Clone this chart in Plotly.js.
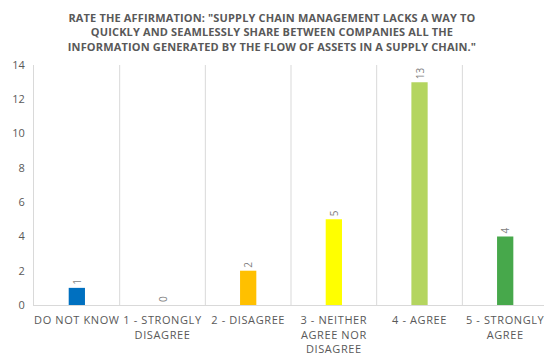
<!DOCTYPE html>
<html>
<head>
<meta charset="utf-8">
<script src="https://cdn.plot.ly/plotly-3.0.1.min.js"></script>
<style>
  html, body { margin: 0; padding: 0; background: #fff; overflow: hidden; }
  #chart { width: 544px; height: 356px; }
  .xtick text { letter-spacing: 0.6px; }
  .gtitle { letter-spacing: 0.15px; }
</style>
</head>
<body>
<div id="chart"></div>
<script>
// Survey answers and their counts
const categories = [
  "DO NOT KNOW",
  "1 - STRONGLY<br>DISAGREE",
  "2 - DISAGREE",
  "3 - NEITHER<br>AGREE NOR<br>DISAGREE",
  "4 - AGREE",
  "5 - STRONGLY<br>AGREE"
];
const counts = [1, 0, 2, 5, 13, 4];
const barColors = ["#0070C0", "#A5A5A5", "#FFC000", "#FFFF00", "#B4D55F", "#47A84B"];
const yTicks = [0, 2, 4, 6, 8, 10, 12, 14];

const gray = "#595959";

const trace = {
  type: "bar",
  x: categories.map((c, i) => i),
  y: counts,
  width: 0.19,
  marker: { color: barColors },
  text: counts.map(String),
  textposition: "outside",
  textangle: -90,
  cliponaxis: false,
  textfont: { family: "Open Sans, sans-serif", size: 10, color: "#7F7F7F" },
  hoverinfo: "skip"
};

// Category boundaries drawn as light vertical separators
const separators = [];
for (let i = 0; i < categories.length; i++) {
  separators.push({
    type: "line", xref: "x", yref: "paper",
    x0: i + 0.5, x1: i + 0.5, y0: 0, y1: 1,
    line: { color: "#D9D9D9", width: 1 }, layer: "below"
  });
}

const layout = {
  width: 544,
  height: 356,
  margin: { l: 34, r: 0, t: 65, b: 51 },
  paper_bgcolor: "#FFFFFF",
  plot_bgcolor: "#FFFFFF",
  showlegend: false,
  title: {
    text: "RATE THE AFFIRMATION: \"SUPPLY CHAIN MANAGEMENT LACKS A WAY TO<br>QUICKLY AND SEAMLESSLY SHARE BETWEEN COMPANIES ALL THE<br>INFORMATION GENERATED BY THE FLOW OF ASSETS IN A SUPPLY CHAIN.\"",
    font: { family: "Open Sans, sans-serif", size: 11, color: gray, weight: "bold" },
    x: 0.5, xanchor: "center",
    y: 0.938, yanchor: "top"
  },
  xaxis: {
    range: [-0.5, 5.453],
    tickmode: "array",
    tickvals: categories.map((c, i) => i),
    ticktext: categories,
    tickfont: { family: "Open Sans, sans-serif", size: 11, color: gray },
    ticklabelstandoff: 5,
    ticklabeloverflow: "allow",
    showgrid: false,
    zeroline: false,
    showline: true,
    linecolor: "#D9D9D9",
    linewidth: 1,
    ticks: "",
    fixedrange: true
  },
  yaxis: {
    range: [0, 14],
    tickmode: "array",
    tickvals: yTicks,
    tickfont: { family: "Open Sans, sans-serif", size: 11, color: gray },
    ticklabelstandoff: 6,
    showgrid: false,
    zeroline: false,
    showline: true,
    linecolor: "#D9D9D9",
    linewidth: 1,
    ticks: "",
    fixedrange: true
  },
  shapes: separators
};

Plotly.newPlot("chart", [trace], layout, { displayModeBar: false, staticPlot: true });
</script>
</body>
</html>
